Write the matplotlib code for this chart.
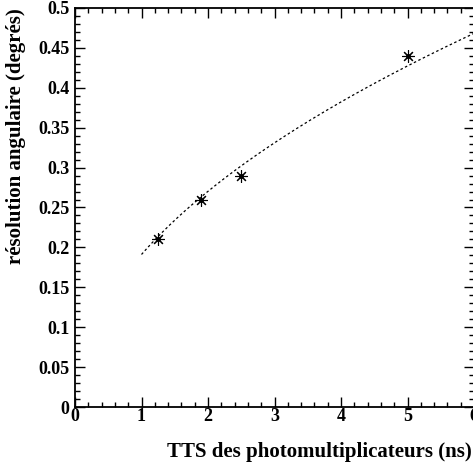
import numpy as np
import matplotlib
matplotlib.use("Agg")
import matplotlib.pyplot as plt
from matplotlib.ticker import MultipleLocator

tts = [1.25, 1.9, 2.5, 5.0]
resolution = [0.21, 0.26, 0.29, 0.44]
xticks = [0, 1, 2, 3, 4, 5, 6]
yticks = [0, 0.05, 0.1, 0.15, 0.2, 0.25, 0.3, 0.35, 0.4, 0.45, 0.5]
ytick_labels = ["0", "0.05", "0.1", "0.15", "0.2", "0.25", "0.3", "0.35", "0.4", "0.45", "0.5"]
fit_range = [1.0, 6.0]

plt.rcParams['font.family'] = ['Liberation Serif', 'DejaVu Serif']
plt.rcParams['font.weight'] = 'bold'

fig = plt.figure(figsize=(4.73, 4.69), dpi=100)
W, H = 473, 469
x0, x1 = 75, 474
y0, y1 = 407, 8
ax = fig.add_axes([x0 / W, 1 - y0 / H, (x1 - x0) / W, (y0 - y1) / H])

# fit a*sqrt(x) by least squares
xs = np.array(tts); ys = np.array(resolution)
a = np.sum(ys * np.sqrt(xs)) / np.sum(xs)
xf = np.linspace(fit_range[0], fit_range[1], 200)
ax.plot(xf, a * np.sqrt(xf), linestyle=(0, (2, 2)), color='black', lw=0.9)
ax.plot(tts, resolution, linestyle='none', marker=(8, 2, 0), markersize=9,
        color='black', mew=0.8)
ax.plot(tts, resolution, linestyle='none', marker='o', markersize=2.5, color='black')

ax.set_xlim(0, 6)
ax.set_ylim(0, 0.5)
ax.set_xticks(xticks)
ax.set_xticklabels([str(v) for v in xticks])
ax.set_yticks(yticks)
ax.set_yticklabels(ytick_labels)
ax.xaxis.set_minor_locator(MultipleLocator(0.2))
ax.yaxis.set_minor_locator(MultipleLocator(0.01))
ax.tick_params(which='both', direction='in', top=True, right=True, labelsize=13, width=1.0)
ax.tick_params(which='major', length=7)
ax.tick_params(which='minor', length=3.5)
ax.tick_params(axis='x', pad=1)
ax.tick_params(axis='y', pad=4)
for lab in ax.get_xticklabels() + ax.get_yticklabels():
    lab.set_fontweight('bold')
for s in ax.spines.values():
    s.set_linewidth(1.3)

ax.set_xlabel("TTS des photomultiplicateurs (ns)", fontsize=15, fontweight='bold',
              ha='right', x=1.0 - 2 / (x1 - x0), labelpad=12)
ax.set_ylabel("résolution angulaire (degrés)", fontsize=15, fontweight='bold',
              ha='right', y=1.0, labelpad=9)

fig.savefig("out.png", dpi=100)
